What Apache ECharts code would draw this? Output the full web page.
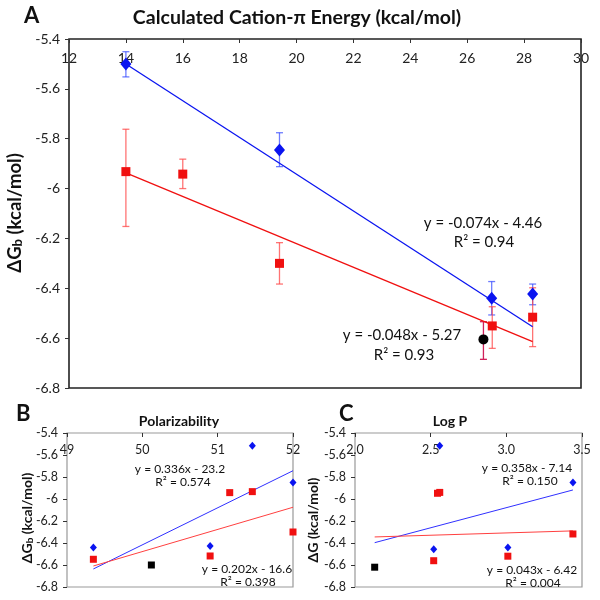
<!DOCTYPE html>
<html><head><meta charset="utf-8">
<script src="https://cdn.jsdelivr.net/npm/echarts@6/dist/echarts.min.js"></script>
<style>html,body{margin:0;padding:0;background:#fff}#c{width:600px;height:600px}</style>
</head><body><div id="c"></div>
<script>
const FONT = 'Lato';
// ---- Panel A: Calculated Cation-π Energy ----
const aBlueX = [14, 19.4, 26.86, 28.3];
const aBlueY = [-5.50, -5.845, -6.44, -6.423];
const aBlueErrUp = [0.049, 0.069, 0.067, 0.04];
const aBlueErrDn = [0.052, 0.067, 0.067, 0.043];
const aRedX = [14, 16, 19.4, 26.88, 28.3];
const aRedY = [-5.932, -5.942, -6.30, -6.551, -6.516];
const aRedErrUp = [0.17, 0.06, 0.083, 0.077, 0.118];
const aRedErrDn = [0.22, 0.058, 0.083, 0.09, 0.118];
const aBlackX = [26.57];
const aBlackY = [-6.605];
const aBlackErrUp = [0.071];
const aBlackErrDn = [0.08];
const aBlueTrendX = [14, 28.3];
const aBlueTrendY = [-5.50, -6.554];
const aRedTrendX = [14, 28.3];
const aRedTrendY = [-5.937, -6.614];
const aXTicks = [12, 30, 2];
const yTicks = [-6.8, -5.4, 0.2];
// ---- Panel B: Polarizability ----
const bBlueX = [49.35, 50.9, 51.46, 52.0];
const bBlueY = [-6.44, -6.427, -5.515, -5.85];
const bRedX = [49.35, 50.9, 51.16, 51.46, 52.0];
const bRedY = [-6.548, -6.518, -5.942, -5.933, -6.30];
const bBlackX = [50.12];
const bBlackY = [-6.60];
const bBlueTrendX = [49.35, 52.0];
const bBlueTrendY = [-6.636, -5.743];
const bRedTrendX = [49.35, 52.0];
const bRedTrendY = [-6.609, -6.075];
const bXTicks = [49, 52, 1];
// ---- Panel C: Log P ----
const cBlueX = [2.56, 2.52, 3.01, 3.44];
const cBlueY = [-5.515, -6.457, -6.44, -5.85];
const cRedX = [2.545, 2.56, 2.52, 3.01, 3.44];
const cRedY = [-5.948, -5.94, -6.561, -6.52, -6.318];
const cBlackX = [2.13];
const cBlackY = [-6.62];
const cBlueTrendX = [2.13, 3.44];
const cBlueTrendY = [-6.397, -5.918];
const cRedTrendX = [2.13, 3.44];
const cRedTrendY = [-6.345, -6.29];
const cXTicks = [2.0, 3.5, 0.5];

const BLUE = '#0a14f0', RED = '#f01010';
const zip = (xs, ys) => xs.map((x, i) => [x, ys[i]]);
const errData = (xs, ys, up, dn) => xs.map((x, i) => [x, ys[i] - dn[i], ys[i] + up[i]]);

function errSeries(data, color, idx) {
  return {
    type: 'custom', xAxisIndex: idx, yAxisIndex: idx, z: 1,
    data: data,
    renderItem: function (params, api) {
      const lo = api.coord([api.value(0), api.value(1)]);
      const hi = api.coord([api.value(0), api.value(2)]);
      const w = 3.5;
      const st = { stroke: color, lineWidth: 1.3 };
      return { type: 'group', children: [
        { type: 'line', shape: { x1: lo[0], y1: lo[1], x2: hi[0], y2: hi[1] }, style: st },
        { type: 'line', shape: { x1: lo[0] - w, y1: lo[1], x2: lo[0] + w, y2: lo[1] }, style: st },
        { type: 'line', shape: { x1: hi[0] - w, y1: hi[1], x2: hi[0] + w, y2: hi[1] }, style: st }
      ]};
    }
  };
}
function scat(data, color, symbol, size, idx) {
  return { type: 'scatter', xAxisIndex: idx, yAxisIndex: idx, data: data, symbol: symbol,
    symbolSize: size, itemStyle: { color: color, opacity: 1 }, z: 3, silent: true };
}
function trend(data, color, idx, width) {
  return { type: 'line', xAxisIndex: idx, yAxisIndex: idx, data: data, symbol: 'none',
    lineStyle: { color: color, width: width }, z: 2, silent: true };
}
function xAx(idx, t, size, margin, fmt) {
  return { type: 'value', gridIndex: idx, position: 'top', min: t[0], max: t[1], interval: t[2],
    axisLine: { show: false },
    axisTick: { show: true, inside: true, length: 4, lineStyle: { color: '#333' } },
    axisLabel: { inside: true, margin: margin, color: '#222', fontSize: size, fontFamily: FONT, formatter: fmt },
    splitLine: { show: false } };
}
function yAx(idx, size) {
  return { type: 'value', gridIndex: idx, min: yTicks[0], max: yTicks[1], interval: yTicks[2],
    axisLine: { show: false },
    axisTick: { show: true, inside: false, length: 4, lineStyle: { color: '#333' } },
    axisLabel: { color: '#222', fontSize: size, fontFamily: FONT, margin: 9 },
    splitLine: { show: false } };
}
function txt(x, y, s, size) {
  return { type: 'text', x: x, y: y, style: { text: s, fontFamily: FONT, fontSize: size, fill: '#111', align: 'center', verticalAlign: 'middle' } };
}
function vname(x, y, s, size) {
  return { type: 'text', x: x, y: y, rotation: Math.PI / 2,
    style: { text: s, fontFamily: FONT, fontWeight: 'bold', fontSize: size, fill: '#111', align: 'center', verticalAlign: 'middle',
      rich: { n: { fontFamily: FONT, fontWeight: 'bold', fontSize: size, fill: '#111' },
              s: { fontFamily: FONT, fontWeight: 'bold', fontSize: Math.round(size * 0.72), fill: '#111', padding: [Math.round(size * 0.35), 0, 0, 0] } } } };
}

const chart = echarts.init(document.getElementById('c'));
chart.setOption({
  animation: false,
  backgroundColor: '#fff',
  title: [
    { text: 'A', left: 19, top: 0, textStyle: { fontFamily: FONT, fontWeight: 'bold', fontSize: 22, color: '#111' } },
    { text: 'Calculated Cation-π Energy (kcal/mol)', left: 292, textAlign: 'center', top: 3, textStyle: { fontFamily: FONT, fontWeight: 'bold', fontSize: 19.5, color: '#111' } },
    { text: 'B', left: 11, top: 398, textStyle: { fontFamily: FONT, fontWeight: 'bold', fontSize: 22, color: '#111' } },
    { text: 'Polarizability', left: 174, textAlign: 'center', top: 409, textStyle: { fontFamily: FONT, fontWeight: 'bold', fontSize: 14, color: '#111' } },
    { text: 'C', left: 334, top: 398, textStyle: { fontFamily: FONT, fontWeight: 'bold', fontSize: 22, color: '#111' } },
    { text: 'Log P', left: 445, textAlign: 'center', top: 409, textStyle: { fontFamily: FONT, fontWeight: 'bold', fontSize: 14, color: '#111' } }
  ],
  grid: [
    { left: 69, top: 39, width: 512, height: 349, show: true, borderColor: '#222', borderWidth: 1.6, backgroundColor: 'transparent' },
    { left: 67, top: 433, width: 226, height: 154, show: true, borderColor: '#999', borderWidth: 1.2, backgroundColor: 'transparent' },
    { left: 355, top: 433, width: 227, height: 154, show: true, borderColor: '#999', borderWidth: 1.2, backgroundColor: 'transparent' }
  ],
  xAxis: [
    xAx(0, aXTicks, 14, 12, v => String(v)),
    xAx(1, bXTicks, 12.5, 10, v => String(v)),
    xAx(2, cXTicks, 12.5, 10, v => v.toFixed(1))
  ],
  yAxis: [ yAx(0, 14), yAx(1, 12.5), yAx(2, 12.5) ],
  graphic: [
    vname(15, 213, '{n|ΔG}{s|b}{n| (kcal/mol)}', 18.5),
    vname(27, 518, '{n|ΔG}{s|b}{n| (kcal/mol)}', 14),
    vname(313, 520, 'ΔG (kcal/mol)', 14),
    txt(483, 223, 'y = -0.074x - 4.46', 15),
    txt(484, 242, 'R² = 0.94', 15),
    txt(402, 335, 'y = -0.048x - 5.27', 15),
    txt(404, 355, 'R² = 0.93', 15),
    txt(180, 469, 'y = 0.336x - 23.2', 12),
    txt(183, 482, 'R² = 0.574', 12),
    txt(247, 569, 'y = 0.202x - 16.6', 12),
    txt(248, 582, 'R² = 0.398', 12),
    txt(527, 468, 'y = 0.358x - 7.14', 12),
    txt(530, 481, 'R² = 0.150', 12),
    txt(532, 570, 'y = 0.043x - 6.42', 12),
    txt(533, 583, 'R² = 0.004', 12)
  ],
  series: [
    trend(zip(aBlueTrendX, aBlueTrendY), BLUE, 0, 1.3),
    trend(zip(aRedTrendX, aRedTrendY), RED, 0, 1.3),
    errSeries(errData(aBlueX, aBlueY, aBlueErrUp, aBlueErrDn), 'rgba(60,80,255,0.75)', 0),
    errSeries(errData(aRedX, aRedY, aRedErrUp, aRedErrDn), 'rgba(255,70,70,0.75)', 0),
    errSeries(errData(aBlackX, aBlackY, aBlackErrUp, aBlackErrDn), '#d0205a', 0),
    scat(zip(aBlueX, aBlueY), BLUE, 'diamond', [11, 13], 0),
    scat(zip(aRedX, aRedY), RED, 'rect', 9, 0),
    scat(zip(aBlackX, aBlackY), '#000', 'circle', 10, 0),

    trend(zip(bBlueTrendX, bBlueTrendY), '#3030ff', 1, 1),
    trend(zip(bRedTrendX, bRedTrendY), '#ff4040', 1, 1),
    scat(zip(bBlueX, bBlueY), BLUE, 'diamond', [7, 8], 1),
    scat(zip(bRedX, bRedY), RED, 'rect', 7, 1),
    scat(zip(bBlackX, bBlackY), '#000', 'rect', 7, 1),

    trend(zip(cBlueTrendX, cBlueTrendY), '#3030ff', 2, 1),
    trend(zip(cRedTrendX, cRedTrendY), '#ff4040', 2, 1),
    scat(zip(cBlueX, cBlueY), BLUE, 'diamond', [7, 8], 2),
    scat(zip(cRedX, cRedY), RED, 'rect', 7, 2),
    scat(zip(cBlackX, cBlackY), '#000', 'rect', 7, 2)
  ]
});
</script>
</body></html>
